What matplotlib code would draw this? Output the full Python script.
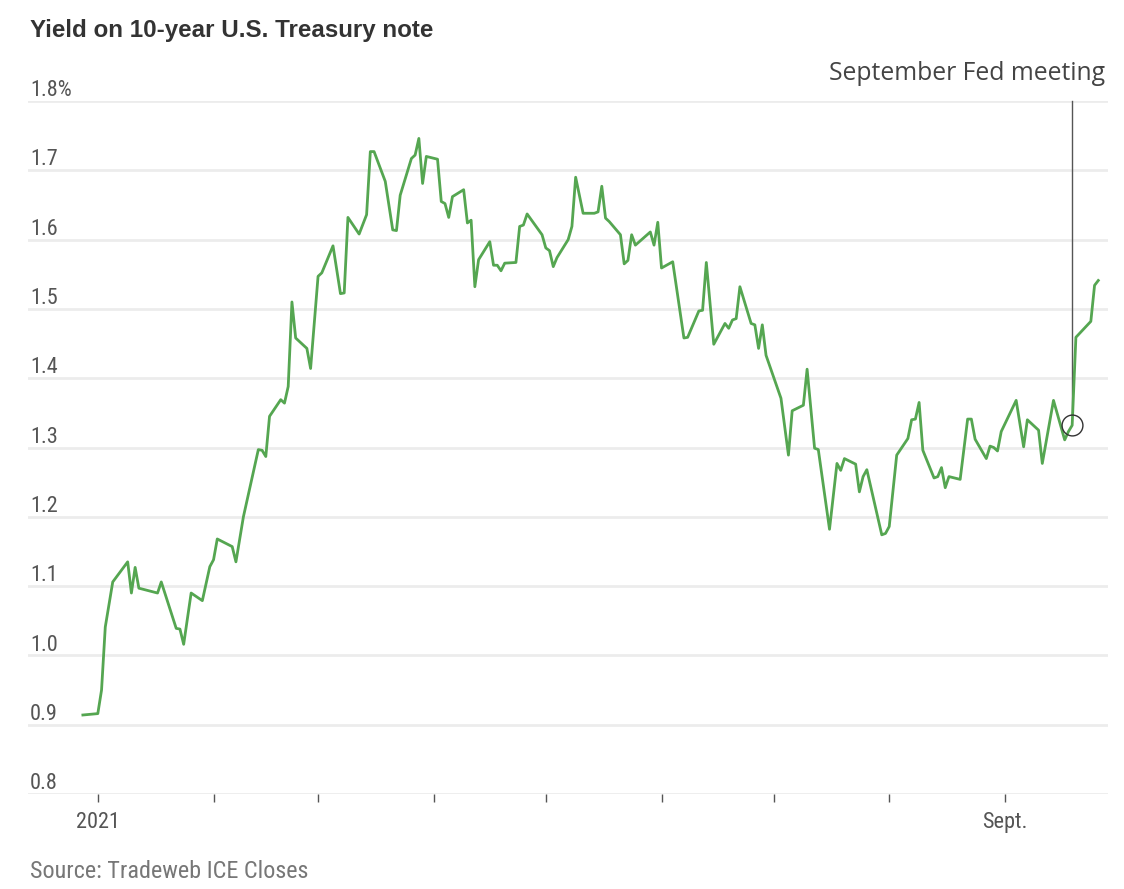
import matplotlib
matplotlib.use("Agg")
import matplotlib.pyplot as plt
import matplotlib.dates as mdates
from matplotlib import font_manager
import pandas as pd

# 10-year yield (trading-day vertices)
dates = [
    "2020-12-31", "2021-01-04", "2021-01-05", "2021-01-06", "2021-01-08", "2021-01-12",
    "2021-01-13", "2021-01-14", "2021-01-15", "2021-01-20", "2021-01-21", "2021-01-25",
    "2021-01-26", "2021-01-27", "2021-01-29", "2021-02-01", "2021-02-03", "2021-02-04",
    "2021-02-05", "2021-02-09", "2021-02-10", "2021-02-12", "2021-02-16", "2021-02-17",
    "2021-02-18", "2021-02-19", "2021-02-22", "2021-02-23", "2021-02-24", "2021-02-25",
    "2021-02-26", "2021-03-01", "2021-03-02", "2021-03-04", "2021-03-05", "2021-03-08",
    "2021-03-10", "2021-03-11", "2021-03-12", "2021-03-15", "2021-03-17", "2021-03-18",
    "2021-03-19", "2021-03-22", "2021-03-24", "2021-03-25", "2021-03-26", "2021-03-29",
    "2021-03-30", "2021-03-31", "2021-04-01", "2021-04-02", "2021-04-05", "2021-04-06",
    "2021-04-07", "2021-04-08", "2021-04-09", "2021-04-12", "2021-04-13", "2021-04-14",
    "2021-04-15", "2021-04-16", "2021-04-19", "2021-04-20", "2021-04-21", "2021-04-22",
    "2021-04-23", "2021-04-26", "2021-04-27", "2021-04-28", "2021-04-29", "2021-05-03",
    "2021-05-04", "2021-05-05", "2021-05-06", "2021-05-07", "2021-05-10", "2021-05-11",
    "2021-05-12", "2021-05-14", "2021-05-17", "2021-05-18", "2021-05-19", "2021-05-20",
    "2021-05-21", "2021-05-24", "2021-05-25", "2021-05-26", "2021-05-27", "2021-05-28",
    "2021-06-01", "2021-06-02", "2021-06-03", "2021-06-04", "2021-06-07", "2021-06-10",
    "2021-06-11", "2021-06-14", "2021-06-15", "2021-06-16", "2021-06-18", "2021-06-21",
    "2021-06-22", "2021-06-23", "2021-06-24", "2021-06-25", "2021-06-28", "2021-06-29",
    "2021-06-30", "2021-07-01", "2021-07-02", "2021-07-06", "2021-07-08", "2021-07-09",
    "2021-07-12", "2021-07-13", "2021-07-15", "2021-07-16", "2021-07-19", "2021-07-21",
    "2021-07-22", "2021-07-23", "2021-07-26", "2021-07-27", "2021-07-28", "2021-07-29",
    "2021-08-02", "2021-08-03", "2021-08-04", "2021-08-06", "2021-08-09", "2021-08-10",
    "2021-08-11", "2021-08-12", "2021-08-13", "2021-08-16", "2021-08-17", "2021-08-18",
    "2021-08-19", "2021-08-20", "2021-08-23", "2021-08-25", "2021-08-26", "2021-08-27",
    "2021-08-30", "2021-08-31", "2021-09-01", "2021-09-02", "2021-09-03", "2021-09-07",
    "2021-09-09", "2021-09-10", "2021-09-13", "2021-09-14", "2021-09-17", "2021-09-20",
    "2021-09-21", "2021-09-22", "2021-09-23", "2021-09-27", "2021-09-28", "2021-09-29",
]
yields = [
    0.914, 0.916, 0.950, 1.041, 1.106, 1.135,
    1.090, 1.127, 1.097, 1.090, 1.106, 1.039,
    1.038, 1.016, 1.090, 1.079, 1.128, 1.138,
    1.168, 1.157, 1.135, 1.200, 1.297, 1.296,
    1.287, 1.345, 1.369, 1.364, 1.388, 1.510,
    1.458, 1.443, 1.414, 1.547, 1.552, 1.591,
    1.522, 1.523, 1.632, 1.608, 1.636, 1.727,
    1.727, 1.684, 1.614, 1.613, 1.664, 1.717,
    1.722, 1.746, 1.681, 1.720, 1.716, 1.655,
    1.652, 1.632, 1.662, 1.672, 1.624, 1.628,
    1.532, 1.571, 1.597, 1.563, 1.563, 1.555,
    1.566, 1.567, 1.619, 1.621, 1.637, 1.607,
    1.588, 1.584, 1.561, 1.574, 1.600, 1.619,
    1.690, 1.638, 1.638, 1.640, 1.677, 1.631,
    1.626, 1.607, 1.565, 1.570, 1.607, 1.592,
    1.611, 1.592, 1.625, 1.559, 1.568, 1.458,
    1.459, 1.497, 1.498, 1.567, 1.449, 1.479,
    1.472, 1.484, 1.486, 1.532, 1.479, 1.477,
    1.443, 1.477, 1.433, 1.371, 1.289, 1.353,
    1.361, 1.413, 1.299, 1.297, 1.182, 1.277,
    1.267, 1.284, 1.276, 1.236, 1.258, 1.268,
    1.174, 1.176, 1.186, 1.289, 1.313, 1.340,
    1.341, 1.365, 1.296, 1.256, 1.258, 1.271,
    1.242, 1.258, 1.254, 1.341, 1.341, 1.312,
    1.284, 1.302, 1.300, 1.295, 1.323, 1.368,
    1.301, 1.340, 1.325, 1.277, 1.368, 1.311,
    1.323, 1.332, 1.459, 1.482, 1.534, 1.541,
]

fed_date = "2021-09-22"
fed_yield = 1.332
fed_label = "September Fed meeting"

y_ticks = [0.8, 0.9, 1.0, 1.1, 1.2, 1.3, 1.4, 1.5, 1.6, 1.7, 1.8]
y_labels = ["0.8", "0.9", "1.0", "1.1", "1.2", "1.3", "1.4", "1.5", "1.6", "1.7", "1.8%"]

# pick a narrow face if one is around
installed = {f.name for f in font_manager.fontManager.ttflist}
narrow = [n for n in ['Liberation Sans Narrow', 'DejaVu Sans Condensed', 'Roboto Condensed']
          if n in installed]
plt.rcParams['font.family'] = narrow + ['DejaVu Sans']
if not narrow:
    plt.rcParams['font.stretch'] = 'condensed'

fig = plt.figure(figsize=(11.24, 8.89), dpi=100)
ax = fig.add_axes([28 / 1124, 95 / 889, 1080 / 1124, 693 / 889])

x = pd.to_datetime(dates)

for v in y_ticks:
    ax.axhline(v, color='#ececec', lw=2, zorder=0)
for v, lab in zip(y_ticks, y_labels):
    ax.text(0.002, v + 0.007, lab, transform=ax.get_yaxis_transform(),
            ha='left', va='baseline', fontsize=16, color='#555555')

ax.plot(x, yields, color='#55a651', lw=2.0, zorder=3)

# Fed meeting marker + leader line
fd = pd.Timestamp(fed_date)
ax.plot([fd], [fed_yield], marker='o', ms=15, mfc='none', mec='#333333', mew=1.0,
        zorder=4, clip_on=False)
ax.plot([fd, fd], [fed_yield + 0.016, 1.8], color='#555555', lw=1.0, zorder=2, clip_on=False)
ax.annotate(fed_label, xy=(1.0, 1.84), xycoords=ax.get_yaxis_transform(),
            xytext=(-3, 0), textcoords='offset pixels', ha='right', va='center',
            fontsize=17.8, color='#444444', family=['Open Sans', 'DejaVu Sans'],
            annotation_clip=False)

ax.set_xlim(pd.Timestamp("2020-12-31") - pd.Timedelta(days=14.7),
            pd.Timestamp("2021-09-29") + pd.Timedelta(days=2.6))
ax.set_ylim(0.8, 1.8)

for s in ax.spines.values():
    s.set_visible(False)

def month_label(val, pos):
    d = mdates.num2date(val)
    if d.month == 1:
        return "2021"
    if d.month == 9:
        return "Sept."
    return ""

ax.xaxis.set_major_locator(mdates.MonthLocator(bymonthday=4))
ax.xaxis.set_major_formatter(plt.FuncFormatter(month_label))
ax.tick_params(axis='x', length=6, width=1, color='#555555', labelsize=16,
               labelcolor='#555555', pad=7)
ax.tick_params(axis='y', left=False, labelleft=False)

fig.text(30 / 1124, 1 - 30 / 889, "Yield on 10-year U.S. Treasury note",
         fontsize=17.4, fontweight='bold', color='#333333', va='center',
         family=['Liberation Sans', 'DejaVu Sans'])
fig.text(30 / 1124, 1 - 871 / 889, "Source: Tradeweb ICE Closes",
         fontsize=17.4, color='#777777', va='center')

fig.savefig("out.png", dpi=100)
